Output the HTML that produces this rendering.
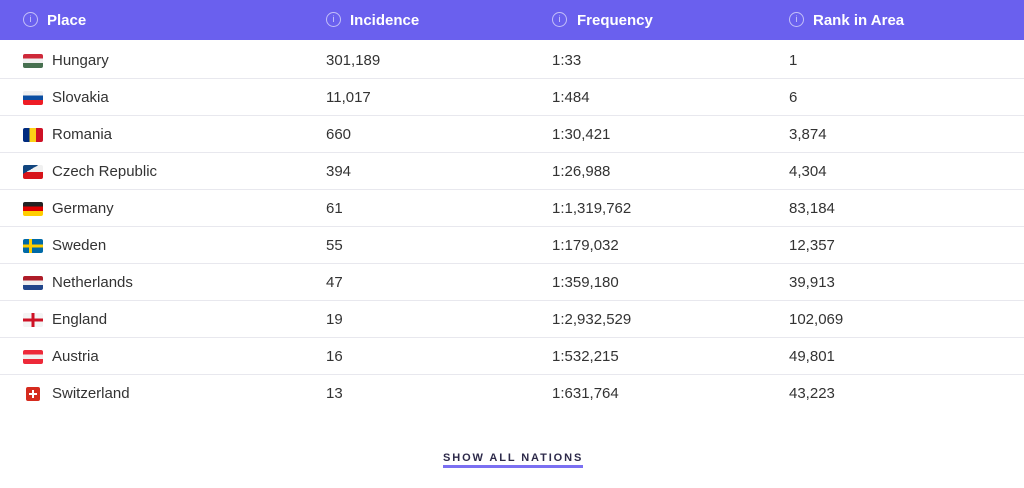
<!DOCTYPE html>
<html><head><meta charset="utf-8"><style>
body{margin:0;width:1024px;height:488px;background:#fff;font-family:"Liberation Sans",sans-serif;overflow:hidden;position:relative}
.hdr{position:absolute;left:0;top:0;width:1024px;height:40px;background:#6a60ee}
.h{position:absolute;top:0;height:40px;line-height:41px;color:#fff;font-weight:bold;font-size:15px}
.ic{position:absolute;top:12px;width:13px;height:13px;border:1.2px solid rgba(255,255,255,.6);border-radius:50%;color:rgba(255,255,255,.7);font-size:9px;line-height:13px;text-align:center;font-weight:normal}
.row{position:absolute;left:0;width:1024px;height:37px;border-bottom:1px solid #e8e8ee}
.c{position:absolute;top:0;line-height:39px;font-size:15px;color:#333}
.flag{position:absolute;left:23px;top:13px;width:20px;height:14px;border-radius:2px;overflow:hidden}
.btn{position:absolute;left:443px;top:452px;font-size:11px;font-weight:bold;letter-spacing:1.9px;color:#2d2a4a;border-bottom:3px solid #7b70f2;padding-bottom:1px;white-space:nowrap}
</style></head><body>
<div class="hdr">
<span class="ic" style="left:23px">i</span><span class="h" style="left:47px">Place</span>
<span class="ic" style="left:326px">i</span><span class="h" style="left:350px">Incidence</span>
<span class="ic" style="left:552px">i</span><span class="h" style="left:577px">Frequency</span>
<span class="ic" style="left:789px">i</span><span class="h" style="left:813px">Rank in Area</span>
</div>
<div id="rows"></div>
<div class="btn">SHOW ALL NATIONS</div>
<script>
const places=["Hungary","Slovakia","Romania","Czech Republic","Germany","Sweden","Netherlands","England","Austria","Switzerland"];
const incidence=["301,189","11,017","660","394","61","55","47","19","16","13"];
const frequency=["1:33","1:484","1:30,421","1:26,988","1:1,319,762","1:179,032","1:359,180","1:2,932,529","1:532,215","1:631,764"];
const ranks=["1","6","3,874","4,304","83,184","12,357","39,913","102,069","49,801","43,223"];
const flags=[
"linear-gradient(#ce2939 33%,#f0f0f0 33% 66%,#477050 66%)",
"linear-gradient(#f0f0f0 33%,#0b4ea2 33% 66%,#ee1c25 66%)",
"linear-gradient(90deg,#002b7f 33%,#fcd116 33% 66%,#ce1126 66%)",
"linear-gradient(150deg,#11457e 35%,transparent 35%),linear-gradient(#f0f0f0 50%,#d7141a 50%)",
"linear-gradient(#222 33%,#dd0000 33% 66%,#ffce00 66%)",
"linear-gradient(90deg,transparent 30%,#fecc00 30% 45%,transparent 45%),linear-gradient(#006aa7 40%,#fecc00 40% 60%,#006aa7 60%)",
"linear-gradient(#ae1c28 33%,#f0f0f0 33% 66%,#21468b 66%)",
"linear-gradient(90deg,transparent 42%,#ce1124 42% 58%,transparent 58%),linear-gradient(#f4f4f4 40%,#ce1124 40% 60%,#f4f4f4 60%)",
"linear-gradient(#ed2939 33%,#f0f0f0 33% 66%,#ed2939 66%)",
"#d52b1e"];
const R=document.getElementById('rows');
places.forEach((p,i)=>{
 const r=document.createElement('div');r.className='row';r.style.top=(41+i*37)+'px';
 if(i==places.length-1)r.style.borderBottom='none';
 
 
 const f=document.createElement('div');f.className='flag';f.style.background=flags[i];
 if(i==9){f.style.width='14px';f.style.left='26px';f.innerHTML='<div style="position:absolute;left:6px;top:3px;width:2px;height:8px;background:#fff"></div><div style="position:absolute;left:3px;top:6px;width:8px;height:2px;background:#fff"></div>';}
 
 
 r.appendChild(f);
 [[52,p,'place'],[326,incidence[i],'incidence'],[552,frequency[i],'frequency'],[789,ranks[i],'rank']].forEach(([x,t,n])=>{
  const c=document.createElement('span');c.className='c';c.style.left=x+'px';c.textContent=t;
  
  
  r.appendChild(c);
 });
 R.appendChild(r);
});
</script>
</body></html>
